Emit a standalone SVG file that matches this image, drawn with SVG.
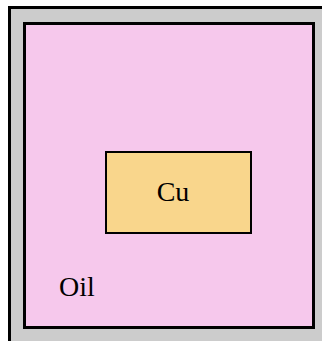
<svg xmlns="http://www.w3.org/2000/svg" width="322" height="341" viewBox="0 0 322 341">
<style>
.box{stroke:#000;}
.lbl{font-family:"Liberation Serif","Times New Roman",serif;font-size:28px;fill:#000;}
</style>
<rect width="322" height="341" fill="#ffffff"/>
<g id="container">
<rect class="box" x="9.5" y="7.5" width="330" height="350" fill="#cccccc" stroke-width="3"/>
</g>
<g id="oil">
<rect class="box" x="24.5" y="23.5" width="289" height="304" fill="#f6c8ec" stroke-width="3"/>
<text class="lbl" x="59" y="296">Oil</text>
</g>
<g id="cu">
<rect class="box" x="106" y="152" width="145" height="81" fill="#f9d68c" stroke-width="2"/>
<text class="lbl" x="173" y="201" text-anchor="middle">Cu</text>
</g>
<g id="connectors"></g>
</svg>
